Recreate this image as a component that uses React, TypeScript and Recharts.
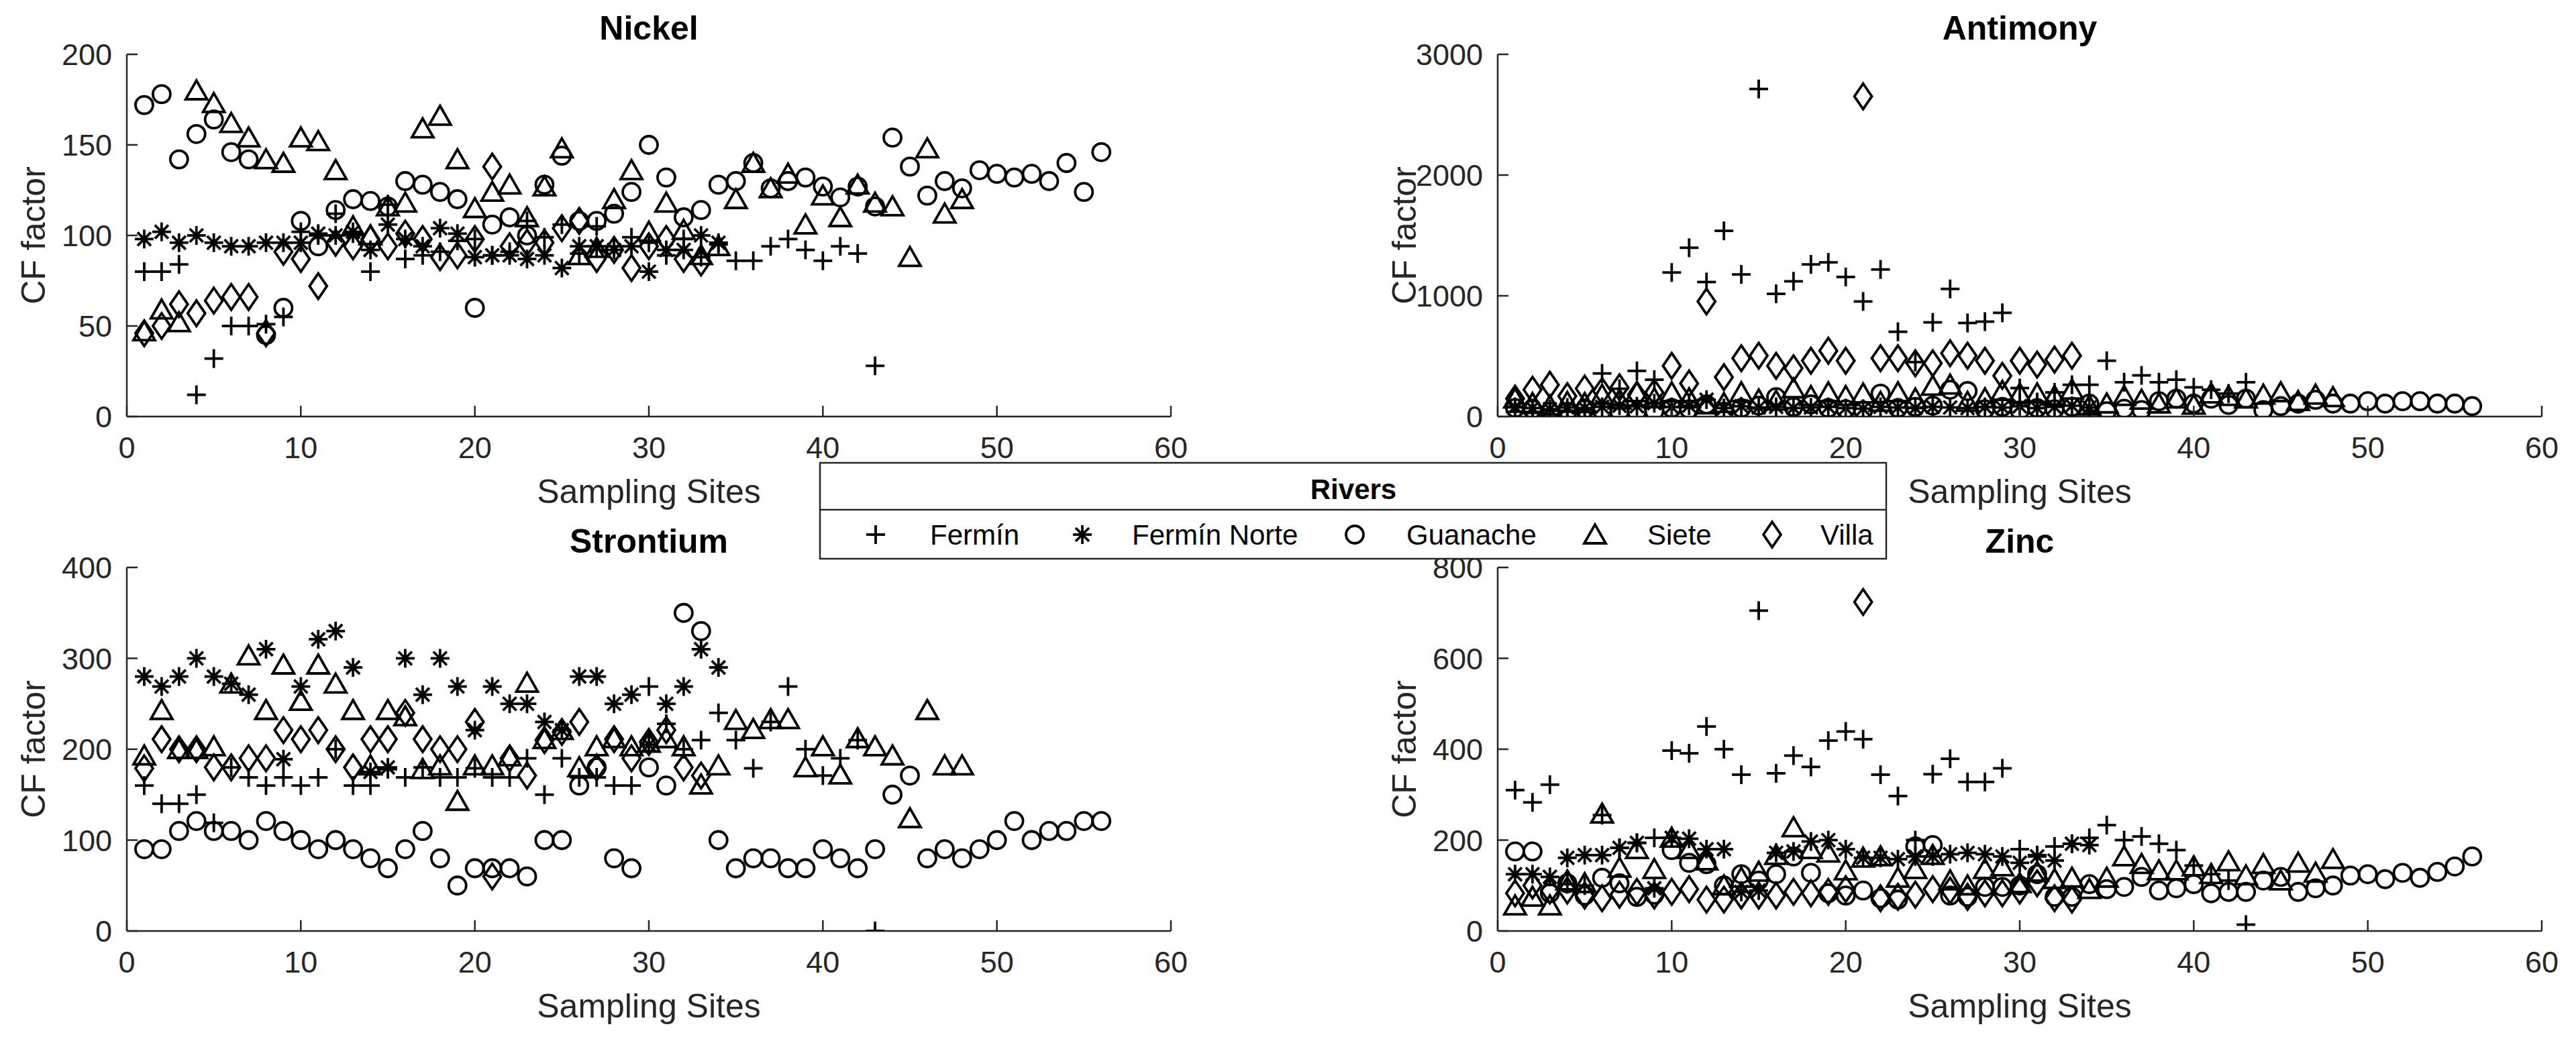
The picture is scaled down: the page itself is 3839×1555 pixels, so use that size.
import React from 'react';
import { ScatterChart, Scatter, XAxis, YAxis } from 'recharts';

// CF factor per sampling site (site number = index + 1)
const nickelFermin = [80, 80, 84, 12, 32, 50, 50, 51, 55, 102, 100, 112, 101, 80, 117, 87, 89, 91, 97, 98, 89, 91, 108, 99, 106, 90, 105, 94, 99, 96, 89, 98, 88, 95, 86, 86, 94, 98, 92, 86, 94, 90, 28];
const nickelFerminNorte = [98, 102, 96, 100, 96, 94, 94, 96, 96, 96, 101, 100, 102, 92, 106, 98, 94, 104, 101, 88, 89, 89, 87, 89, 82, 94, 94, 92, 94, 80, 92, 92, 100, 96];
const nickelGuanache = [172, 178, 142, 156, 164, 146, 142, 45, 60, 108, 94, 114, 120, 119, 116, 130, 128, 124, 120, 60, 106, 110, 100, 128, 144, 108, 108, 112, 124, 150, 132, 110, 114, 128, 130, 140, 126, 130, 132, 127, 121, 127, 116, 154, 138, 122, 130, 126, 136, 134, 132, 134, 130, 140, 124, 146];
const nickelSiete = [47, 59, 52, 180, 173, 162, 154, 142, 140, 154, 152, 136, 105, 100, 116, 118, 159, 166, 142, 115, 124, 128, 110, 127, 148, 89, 93, 120, 136, 102, 118, 103, 89, 94, 120, 140, 126, 134, 106, 122, 110, 128, 118, 116, 88, 148, 112, 120];
const nickelVilla = [46, 50, 62, 57, 64, 66, 66, 46, 91, 87, 72, 96, 94, 98, 94, 101, 98, 88, 89, 98, 138, 94, 96, 96, 104, 108, 87, 92, 82, 94, 98, 87, 85];

const antimonyFermin = [40, 30, 50, 40, 60, 357, 230, 378, 305, 1193, 1398, 1114, 1538, 1177, 2713, 1016, 1120, 1260, 1277, 1156, 953, 1218, 702, 451, 780, 1057, 775, 786, 859, 236, 120, 200, 263, 263, 462, 284, 341, 284, 305, 242, 222, 190, 284];
const antimonyFerminNorte = [80, 70, 60, 75, 70, 80, 90, 85, 110, 80, 90, 140, 70, 85, 75, 80, 70, 75, 80, 70, 65, 80, 75, 70, 80, 75, 70, 80, 75, 85, 70, 80, 90, 75];
const antimonyGuanache = [70, 60, 40, 40, 60, 50, 40, 40, 45, 70, 60, 100, 40, 70, 90, 160, 80, 100, 70, 60, 50, 190, 70, 80, 90, 222, 211, 60, 80, 50, 70, 60, 80, 107, 44, 65, 54, 127, 148, 107, 148, 96, 148, 54, 86, 107, 138, 107, 107, 127, 107, 127, 127, 107, 107, 86];
const antimonySiete = [148, 110, 90, 120, 110, 180, 140, 200, 150, 200, 150, 100, 110, 200, 140, 130, 232, 169, 200, 169, 190, 120, 200, 148, 253, 263, 120, 150, 211, 190, 190, 169, 222, 90, 107, 169, 138, 107, 148, 96, 190, 169, 148, 180, 200, 127, 180, 159];
const antimonyVilla = [148, 222, 263, 169, 232, 211, 242, 180, 200, 420, 274, 953, 326, 483, 504, 420, 400, 462, 545, 462, 2652, 483, 483, 441, 441, 524, 504, 462, 337, 462, 430, 472, 504];

const strontiumFermin = [160, 140, 140, 150, 119, 180, 169, 160, 169, 160, 169, 200, 160, 160, 178, 169, 180, 169, 169, 179, 169, 169, 190, 150, 190, 169, 169, 160, 160, 269, 228, 200, 210, 240, 210, 179, 230, 269, 200, 171, 190, 210, 0];
const strontiumFerminNorte = [280, 269, 280, 300, 280, 272, 260, 310, 189, 269, 321, 330, 290, 175, 180, 300, 260, 300, 269, 221, 269, 250, 250, 230, 221, 280, 280, 250, 260, 205, 250, 269, 310, 290];
const strontiumGuanache = [90, 90, 110, 121, 110, 110, 100, 121, 110, 100, 90, 100, 90, 80, 69, 90, 110, 80, 50, 69, 69, 69, 60, 100, 100, 160, 180, 80, 69, 180, 160, 350, 330, 100, 69, 80, 80, 69, 69, 90, 80, 69, 90, 150, 171, 80, 90, 80, 90, 100, 121, 100, 110, 110, 121, 121];
const strontiumSiete = [193, 243, 200, 200, 203, 272, 303, 243, 293, 253, 293, 272, 243, 182, 243, 236, 178, 182, 143, 182, 182, 192, 273, 211, 221, 180, 203, 212, 203, 207, 212, 203, 161, 182, 232, 222, 233, 233, 180, 203, 172, 212, 203, 193, 124, 243, 182, 182];
const strontiumVilla = [179, 211, 200, 200, 180, 180, 190, 190, 221, 211, 221, 200, 180, 211, 211, 240, 211, 200, 200, 230, 60, 190, 171, 210, 219, 230, 180, 211, 190, 208, 221, 180, 171];

const zincFermin = [310, 283, 322, 103, 100, 255, 183, 194, 205, 397, 391, 450, 400, 344, 705, 347, 386, 361, 419, 439, 422, 344, 297, 200, 345, 379, 328, 328, 358, 180, 167, 186, 192, 205, 233, 200, 208, 192, 178, 144, 125, 111, 14];
const zincFerminNorte = [125, 125, 119, 161, 167, 167, 183, 194, 94, 205, 203, 180, 180, 86, 89, 172, 175, 197, 200, 180, 161, 161, 158, 164, 164, 169, 172, 169, 164, 150, 164, 155, 192, 189];
const zincGuanache = [175, 175, 83, 105, 78, 117, 105, 75, 80, 178, 150, 147, 100, 125, 111, 125, 164, 128, 83, 78, 89, 72, 69, 186, 189, 78, 75, 97, 97, 100, 125, 75, 75, 103, 92, 97, 119, 89, 94, 103, 83, 86, 86, 111, 119, 86, 94, 100, 122, 125, 114, 128, 117, 130, 142, 164];
const zincSiete = [56, 75, 56, 111, 105, 258, 139, 180, 136, 205, 180, 155, 100, 117, 130, 167, 228, 180, 172, 133, 161, 164, 117, 136, 167, 111, 100, 136, 142, 105, 130, 114, 117, 92, 117, 164, 147, 133, 133, 142, 125, 153, 122, 147, 111, 150, 128, 158];
const zincVilla = [83, 100, 89, 89, 78, 72, 80, 86, 78, 86, 92, 69, 69, 78, 78, 78, 86, 83, 86, 92, 724, 72, 75, 80, 92, 89, 75, 83, 83, 89, 105, 72, 69];

const rivers = ['Fermín', 'Fermín Norte', 'Guanache', 'Siete', 'Villa'];
const siteTicks = [0, 10, 20, 30, 40, 50, 60];
const nickelTicks = [0, 50, 100, 150, 200];
const antimonyTicks = [0, 1000, 2000, 3000];
const strontiumTicks = [0, 100, 200, 300, 400];
const zincTicks = [0, 200, 400, 600, 800];

const AX = '#262626';
const INK = '#000000';
const FONT = '"Liberation Sans", Arial, Helvetica, sans-serif';
const SW = 3.8;
const TICK_LEN = 16;
const PLOT_W = 1556;
const YW = 170;
const XH = 90;
const PAD = 40;

const toPoints = (vals: number[]) => vals.map((y, i) => ({ x: i + 1, y }));

// matlab-like markers
const Plus = ({ cx, cy }: any) => (
  <g stroke={INK} strokeWidth={SW} fill="none">
    <line x1={cx - 14} y1={cy} x2={cx + 14} y2={cy} />
    <line x1={cx} y1={cy - 14} x2={cx} y2={cy + 14} />
  </g>
);

const Star = ({ cx, cy }: any) => (
  <g stroke={INK} strokeWidth={SW} fill="none">
    <line x1={cx - 14} y1={cy} x2={cx + 14} y2={cy} />
    <line x1={cx} y1={cy - 14} x2={cx} y2={cy + 14} />
    <line x1={cx - 10} y1={cy - 10} x2={cx + 10} y2={cy + 10} />
    <line x1={cx - 10} y1={cy + 10} x2={cx + 10} y2={cy - 10} />
  </g>
);

const Ring = ({ cx, cy }: any) => (
  <circle cx={cx} cy={cy} r={13} stroke={INK} strokeWidth={SW} fill="none" />
);

const Tri = ({ cx, cy }: any) => (
  <polygon
    points={`${cx},${cy - 15} ${cx + 16},${cy + 13} ${cx - 16},${cy + 13}`}
    stroke={INK}
    strokeWidth={SW}
    fill="none"
  />
);

const Diamond = ({ cx, cy }: any) => (
  <polygon
    points={`${cx},${cy - 19} ${cx + 13},${cy} ${cx},${cy + 19} ${cx - 13},${cy}`}
    stroke={INK}
    strokeWidth={SW}
    fill="none"
  />
);

const markers = [Plus, Star, Ring, Tri, Diamond];

const BottomTick = (props: any) => {
  const { x, y, payload } = props;
  return (
    <g>
      <line x1={x} y1={y} x2={x} y2={y - TICK_LEN} stroke={AX} strokeWidth={2.5} />
      <text x={x} y={y + 62} textAnchor="middle" fontSize={45} fontFamily={FONT} fill={AX}>
        {payload.value}
      </text>
    </g>
  );
};

const TopTick = (props: any) => {
  const { x, y } = props;
  return <line x1={x} y1={y} x2={x} y2={y + TICK_LEN} stroke={AX} strokeWidth={2.5} />;
};

const LeftTick = (props: any) => {
  const { x, y, payload } = props;
  return (
    <g>
      <line x1={x} y1={y} x2={x + TICK_LEN} y2={y} stroke={AX} strokeWidth={2.5} />
      <text x={x - 22} y={y + 16} textAnchor="end" fontSize={45} fontFamily={FONT} fill={AX}>
        {payload.value}
      </text>
    </g>
  );
};

const RightTick = (props: any) => {
  const { x, y } = props;
  return <line x1={x} y1={y} x2={x - TICK_LEN} y2={y} stroke={AX} strokeWidth={2.5} />;
};

const panels = [
  { title: 'Nickel', left: 189, top: 81, h: 540, yMax: 200, yTicks: nickelTicks,
    data: [nickelFermin, nickelFerminNorte, nickelGuanache, nickelSiete, nickelVilla] },
  { title: 'Antimony', left: 2232, top: 81, h: 540, yMax: 3000, yTicks: antimonyTicks,
    data: [antimonyFermin, antimonyFerminNorte, antimonyGuanache, antimonySiete, antimonyVilla] },
  { title: 'Strontium', left: 189, top: 846, h: 542, yMax: 400, yTicks: strontiumTicks,
    data: [strontiumFermin, strontiumFerminNorte, strontiumGuanache, strontiumSiete, strontiumVilla] },
  { title: 'Zinc', left: 2232, top: 846, h: 542, yMax: 800, yTicks: zincTicks,
    data: [zincFermin, zincFerminNorte, zincGuanache, zincSiete, zincVilla] },
];

const frame = { stroke: AX, strokeWidth: 2.5 };

const Panel = ({ p }: any) => (
  <div style={{ position: 'absolute', left: p.left - YW, top: p.top - PAD }}>
    <ScatterChart
      width={YW + PLOT_W + PAD}
      height={PAD + p.h + XH}
      margin={{ top: PAD, right: PAD, bottom: 0, left: 0 }}
    >
      <XAxis type="number" dataKey="x" domain={[0, 60]} ticks={siteTicks} interval={0} height={XH}
        tickLine={false} tickSize={0} tickMargin={0} axisLine={frame} tick={BottomTick} allowDataOverflow />
      <XAxis xAxisId="top" orientation="top" type="number" domain={[0, 60]} ticks={siteTicks} interval={0}
        height={0} tickLine={false} tickSize={0} tickMargin={0} axisLine={frame} tick={TopTick} />
      <YAxis type="number" dataKey="y" domain={[0, p.yMax]} ticks={p.yTicks} interval={0} width={YW}
        tickLine={false} tickSize={0} tickMargin={0} axisLine={frame} tick={LeftTick} allowDataOverflow />
      <YAxis yAxisId="right" orientation="right" type="number" domain={[0, p.yMax]} ticks={p.yTicks} interval={0}
        width={0} tickLine={false} tickSize={0} tickMargin={0} axisLine={frame} tick={RightTick} />
      {p.data.map((vals: number[], k: number) => (
        <Scatter key={rivers[k]} name={rivers[k]} data={toPoints(vals)} shape={markers[k]} isAnimationActive={false} />
      ))}
    </ScatterChart>
  </div>
);

// legend layout (shared "Rivers" box between the two rows)
const legendMarkX = [1305, 1613, 2019, 2377, 2641];
const legendTextX = [1386, 1687, 2096, 2455, 2713];

export default function App() {
  return (
    <div style={{ position: 'absolute', left: 0, top: 0, width: 3839, height: 1555, background: '#fff' }}>
      {panels.map((p) => (
        <Panel key={p.title} p={p} />
      ))}
      <svg width={3839} height={1555} style={{ position: 'absolute', left: 0, top: 0, pointerEvents: 'none' }}
        fontFamily={FONT}>
        {panels.map((p) => (
          <g key={p.title}>
            <text x={p.left + PLOT_W / 2} y={p.top - 22} textAnchor="middle" fontSize={50} fontWeight="bold" fill={INK}>
              {p.title}
            </text>
            <text x={p.left + PLOT_W / 2} y={p.top + p.h + 129} textAnchor="middle" fontSize={50} fill={AX}>
              Sampling Sites
            </text>
            <text transform={`translate(${p.left - 122}, ${p.top + p.h / 2}) rotate(-90)`} textAnchor="middle"
              fontSize={50} fill={AX}>
              CF factor
            </text>
          </g>
        ))}
        <rect x={1222} y={690} width={1589} height={143} fill="#fff" stroke={AX} strokeWidth={2.5} />
        <line x1={1222} y1={760} x2={2811} y2={760} stroke={AX} strokeWidth={2.5} />
        <text x={2017} y={744} textAnchor="middle" fontSize={42} fontWeight="bold" fill={INK}>
          Rivers
        </text>
        {rivers.map((name, k) => {
          const M = markers[k];
          return (
            <g key={name}>
              <M cx={legendMarkX[k]} cy={797} />
              <text x={legendTextX[k]} y={812} fontSize={42} fill={INK}>
                {name}
              </text>
            </g>
          );
        })}
      </svg>
    </div>
  );
}
